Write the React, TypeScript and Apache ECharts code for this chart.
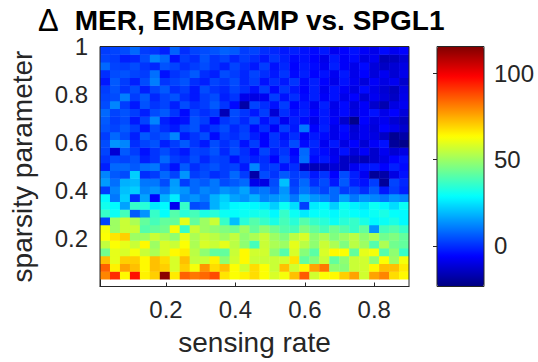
import React, { useEffect, useRef } from "react";
import * as echarts from "echarts";

// Cell centres (sensing rate along x, sparsity parameter along y)
const sensingRates = [
  0.0244, 0.0531, 0.0818, 0.1105, 0.1392, 0.1679, 0.1966, 0.2253, 0.254, 0.2827,
  0.3115, 0.3402, 0.3689, 0.3976, 0.4263, 0.455, 0.4837, 0.5124, 0.5411, 0.5698,
  0.5986, 0.6273, 0.656, 0.6847, 0.7134, 0.7421, 0.7708, 0.7995, 0.8282, 0.8569,
  0.8857,
];
const sparsityParams = [
  0.0472, 0.0795, 0.1118, 0.1441, 0.1764, 0.2087, 0.241, 0.2733, 0.3056, 0.3379,
  0.3702, 0.4025, 0.4348, 0.4671, 0.4994, 0.5317, 0.564, 0.5963, 0.6286, 0.6609,
  0.6932, 0.7255, 0.7578, 0.7901, 0.8224, 0.8547, 0.887, 0.9193, 0.9516, 0.9839,
];

// Δ MER rows, from the lowest sparsity parameter upwards
const row00 = [80, 92, 64, 96, 65, 70, 114, 66, 85, 82, 84, 88, 67, 63, 65, 68, 63, 58, 62, 72, 86, 57, 63, 64, 70, 76, 57, 76, 80, 68, 64];
const row01 = [85, 65, 76, 72, 64, 72, 70, 58, 70, 62, 78, 68, 72, 63, 57, 68, 63, 56, 72, 57, 64, 76, 82, 48, 47, 56, 57, 64, 72, 72, 66];
const row02 = [72, 60, 70, 70, 64, 72, 68, 58, 72, 55, 56, 65, 48, 57, 64, 56, 56, 56, 57, 67, 42, 47, 56, 42, 48, 56, 57, 48, 63, 50, 62];
const row03 = [44, 60, 58, 62, 56, 52, 58, 64, 66, 54, 48, 42, 42, 56, 64, 57, 57, 48, 40, 58, 47, 41, 58, 64, 63, 42, 60, 62, 40, 48, 36];
const row04 = [55, 63, 60, 56, 64, 50, 58, 56, 63, 52, 58, 56, 60, 54, 48, 38, 56, 52, 50, 60, 54, 48, 56, 52, 46, 54, 50, 40, 52, 44, 42];
const row05 = [63, 67, 70, 50, 50, 56, 52, 48, 60, 52, 56, 54, 50, 55, 48, 52, 56, 50, 46, 54, 58, 48, 52, 46, 50, 54, 48, 52, 44, 46, 42];
const row06 = [62, 50, 56, 56, 40, 42, 44, 62, 36, 56, 50, 48, 46, 44, 50, 42, 48, 44, 40, 38, 46, 42, 38, 44, 40, 36, 42, 14, 38, 40, 36];
const row07 = [3, 50, 56, 52, 42, 38, 42, 42, 60, 42, 50, 56, 36, 20, 34, 40, 36, 32, 38, 34, 40, 36, 34, 30, 34, 36, 32, 28, 30, 32, 28];
const row08 = [36, 30, 38, 6, 14, 36, 29, 40, 34, 38, 32, 34, 30, 29, 30, 31, 32, 28, 36, 30, 26, 29, 30, 28, 31, 29, 28, 30, 32, 29, 28];
const row09 = [31, 28, 16, 36, 34, 26, 28, -8, 36, 4, 6, 18, 24, 28, 29, 28, 26, 22, 30, 24, 2, 26, 28, 22, 30, 27, 25, 30, 28, 24, 30];
const row10 = [28, 10, 22, 0, 16, -6, 18, 26, 12, 14, 10, 18, 22, 16, 14, 18, 12, 14, 16, 10, 18, 14, 12, 8, 16, 10, 14, 12, 10, 14, 12];
const row11 = [2, 12, 20, 22, 12, 14, 10, 16, 14, 8, 12, 10, 14, 12, 16, 8, 10, 6, 14, 4, 10, 6, 3, 8, 2, 4, 0, 6, -3, 2, -2];
const row12 = [15, 9, 18, 19, 10, 10, 4, 15, 2, 8, 6, 10, 4, 6, 8, -9, -10, 4, 20, 2, 8, 0, 4, -3, 6, -2, -4, 2, -20, 3, -1];
const row13 = [12, 6, 4, 22, 0, 2, 8, 3, 14, 2, 4, 0, 2, 8, 2, -18, 4, 1, 6, 2, 3, -3, 1, -6, 4, -2, -8, -20, -18, -10, -4];
const row14 = [-2, 8, 8, 6, 9, 10, 2, -4, 6, 0, 3, 5, 2, 3, -3, 12, 1, 2, -4, 0, -14, -16, -15, -12, -14, -8, -4, -3, -6, -2, -5];
const row15 = [1, 4, 3, 5, -2, 1, 8, 2, 0, 4, -1, 3, 2, -4, 1, -2, 0, -6, 3, -4, 9, -5, -3, -8, -14, -15, -16, -13, -10, -6, -4];
const row16 = [3, -12, 6, 2, -4, 1, 4, 0, -3, 3, 2, 5, -1, 4, 0, -5, 3, -2, 1, -6, 8, -3, -5, -9, -4, -11, -7, -13, -8, -12, -10];
const row17 = [4, 14, 12, 0, 3, 5, -2, 2, 6, 1, -3, 4, 0, 3, -4, 2, -6, 1, -2, 4, -5, -1, -8, -3, -10, -6, -12, -7, -4, -20, -22];
const row18 = [2, 8, 4, -2, 6, 3, 5, 12, -3, 1, 4, -5, 2, 0, 3, -2, -6, 1, -4, 0, -7, -3, -5, -9, -6, -11, -8, -10, -14, -21, -18];
const row19 = [5, 3, 6, 2, -4, 4, 0, -3, 3, 5, -2, 1, 4, -1, 2, -5, 0, -7, 2, -3, 10, -6, -2, -9, -5, -12, -8, -11, -6, -9, -13];
const row20 = [6, 2, 4, -3, 3, 12, -2, -5, -4, 5, 2, -6, 1, 3, -1, 4, -4, 0, -8, -2, -5, -9, -3, -7, -13, -22, -6, -10, -8, -12, -15];
const row21 = [8, 3, 5, 2, -2, 4, 6, 1, -5, 3, 0, 2, -16, 4, 1, -3, 2, -12, 0, -4, -2, -6, -3, -8, -5, -10, -7, -4, -9, -6, -11];
const row22 = [4, 12, 2, -3, 5, 1, 3, -2, 4, 0, 2, 6, 1, -5, -18, 3, 0, -4, 2, -6, -3, -8, -2, -9, -5, -11, -7, -13, -17, -10, -8];
const row23 = [3, 4, 11, 2, 6, -1, 3, 5, 0, -3, 2, 4, -2, 1, -9, -10, -8, 2, -4, 0, -5, -2, -7, -4, -9, -6, -12, -8, -11, -14, -9];
const row24 = [2, 5, 1, 4, -2, 3, 6, 0, 2, -3, 4, 1, -1, 3, 0, -4, 2, -5, 1, -3, -6, -2, -8, -4, -7, -10, -5, -9, -12, -15, -10];
const row25 = [-3, 6, 2, -2, 4, 11, 1, 3, 5, 0, -2, 3, 1, 4, -1, 2, -4, 0, -3, 1, -5, -2, -6, -9, -4, -8, -11, -7, -10, -8, -13];
const row26 = [0, 4, 5, 3, 2, 9, -4, 1, 3, 6, 0, -2, 4, 2, -1, 3, 0, -3, 1, -5, -2, -6, -4, -8, -3, -9, -6, -11, -8, -12, -9];
const row27 = [8, 3, 2, 4, 1, -1, 5, 3, 0, 2, 4, 1, -2, 3, 0, -3, 2, -4, -1, -6, -3, -5, -8, -2, -7, -9, -5, -11, -14, -12, -10];
const row28 = [3, 2, -2, -1, 4, 12, 8, -4, 2, 0, 5, 1, 3, -1, 2, 0, -3, 1, -2, -5, -4, -6, -9, -3, -7, -5, -10, -8, -16, -15, -12];
const row29 = [2, 3, 4, 8, 2, 1, -2, 7, 0, 3, 4, 5, 7, 6, 2, 3, 0, -1, -3, -2, -4, -5, -3, -8, -6, -4, -7, -9, -5, -8, -6];

const merRows = [
  row00, row01, row02, row03, row04, row05, row06, row07, row08, row09,
  row10, row11, row12, row13, row14, row15, row16, row17, row18, row19,
  row20, row21, row22, row23, row24, row25, row26, row27, row28, row29,
];

const xTicks = [0.2, 0.4, 0.6, 0.8];
const yTicks = [0.2, 0.4, 0.6, 0.8, 1];
const colorTicks = [0, 50, 100];
const colorMin = -23.5;
const colorMax = 115.5;
const jet = ["#000080", "#0000ff", "#0080ff", "#00ffff", "#80ff80", "#ffff00", "#ff8000", "#ff0000", "#800000"];

const FONT = "Liberation Sans, Arial, Helvetica, sans-serif";
const INK = "#262626";

export default function App() {
  const ref = useRef<HTMLDivElement>(null);
  useEffect(() => {
    if (!ref.current) return;
    const chart = echarts.init(ref.current, undefined, { renderer: "svg" });
    const data: number[][] = [];
    merRows.forEach((row, j) => {
      row.forEach((v, i) => data.push([sensingRates[i], sparsityParams[j], v]));
    });
    const dx = sensingRates[1] - sensingRates[0];
    const dy = sparsityParams[1] - sparsityParams[0];

    const gL = 97.5, gT = 46.5, gW = 311.5, gH = 240;
    const cL = 437, cW = 47;

    chart.setOption({
      animation: false,
      textStyle: { fontFamily: FONT },
      title: {
        text: "{d|Δ}{b|MER, EMBGAMP vs. SPGL1}",
        left: 38,
        top: 6,
        padding: 0,
        textStyle: {
          fontFamily: FONT,
          fontSize: 28,
          lineHeight: 28,
          color: "#000",
          rich: {
            d: { fontFamily: FONT, fontSize: 31, lineHeight: 28, fontWeight: "normal", color: "#000", padding: [0, 16, 0, 0] },
            b: { fontFamily: FONT, fontSize: 28, lineHeight: 28, fontWeight: "bold", color: "#000" },
          },
        },
      },
      grid: [
        { left: gL, top: gT, width: gW, height: gH, show: true, borderColor: INK, borderWidth: 1, z: 10, backgroundColor: "transparent" },
        { left: cL, top: gT, width: cW, height: gH, show: true, borderColor: INK, borderWidth: 1, z: 10, backgroundColor: "transparent" },
      ],
      xAxis: [
        {
          type: "value",
          gridIndex: 0,
          min: 0.01,
          max: 0.9,
          name: "sensing rate",
          nameLocation: "middle",
          nameGap: 42,
          nameTextStyle: { fontSize: 28, color: INK, fontFamily: FONT },
          axisLine: { show: true, lineStyle: { color: INK } },
          axisTick: { show: true, inside: true, length: 4, customValues: xTicks, lineStyle: { color: INK } },
          axisLabel: { fontSize: 24, color: INK, margin: 11, customValues: xTicks, formatter: (v: number) => String(v) },
          splitLine: { show: false },
        },
        { type: "value", gridIndex: 1, show: false, min: 0, max: 1 },
      ],
      yAxis: [
        {
          type: "value",
          gridIndex: 0,
          min: 0,
          max: 1,
          name: "sparsity parameter",
          nameLocation: "middle",
          nameGap: 64,
          nameTextStyle: { fontSize: 28, color: INK, fontFamily: FONT },
          axisLine: { show: true, lineStyle: { color: INK } },
          axisTick: { show: true, inside: true, length: 4, customValues: yTicks, lineStyle: { color: INK } },
          axisLabel: { fontSize: 24, color: INK, margin: 12, customValues: yTicks, formatter: (v: number) => String(v) },
          splitLine: { show: false },
        },
        {
          type: "value",
          gridIndex: 1,
          min: colorMin,
          max: colorMax,
          position: "right",
          axisLine: { show: false },
          axisTick: { show: true, inside: true, length: 4, customValues: colorTicks, lineStyle: { color: INK } },
          axisLabel: { fontSize: 24, color: INK, margin: 10, customValues: colorTicks },
          splitLine: { show: false },
        },
      ],
      visualMap: {
        type: "continuous",
        min: colorMin,
        max: colorMax,
        dimension: 2,
        seriesIndex: 0,
        calculable: false,
        realtime: false,
        orient: "vertical",
        left: cL,
        top: gT,
        padding: 0,
        itemWidth: cW,
        itemHeight: gH,
        text: ["", ""],
        showLabel: false,
        inRange: { color: jet },
        z: 5,
      },
      series: [
        {
          type: "custom",
          xAxisIndex: 0,
          yAxisIndex: 0,
          clip: true,
          encode: { x: 0, y: 1 },
          data,
          z: 3,
          renderItem: (params: any, api: any) => {
            const x = api.value(0);
            const y = api.value(1);
            const p1 = api.coord([x - dx / 2, y + dy / 2]);
            const p2 = api.coord([x + dx / 2, y - dy / 2]);
            return {
              type: "rect",
              shape: { x: p1[0], y: p1[1], width: p2[0] - p1[0] + 0.4, height: p2[1] - p1[1] + 0.4 },
              style: { fill: api.visual("color"), stroke: null },
            };
          },
        },
      ],
    });
    return () => chart.dispose();
  }, []);
  return (
    <div
      ref={ref}
      style={{ position: "fixed", left: 0, top: 0, width: 538, height: 362, background: "#fff" }}
    />
  );
}
